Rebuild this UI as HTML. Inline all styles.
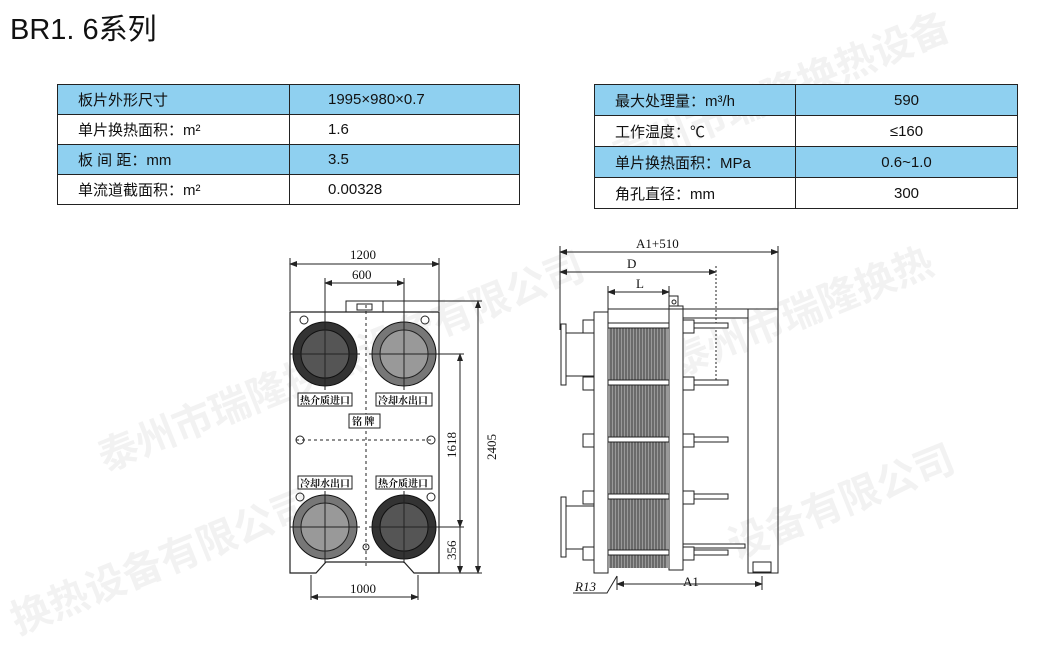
<!DOCTYPE html>
<html><head><meta charset="utf-8"><style>
body{margin:0;width:1057px;height:627px;background:#fff;overflow:hidden;position:relative;font-family:"Liberation Sans","Noto Sans CJK SC",sans-serif}
.t{position:absolute;border-collapse:collapse;font-size:15px;color:#111}
.t td{border:1px solid #222;padding:0 0 0 20px;height:29px}
.t tr.b td{background:#8fd0f0}
.title{position:absolute;left:10px;top:6px;font-size:29px;color:#111}
.wm{position:absolute;color:rgba(0,0,0,0.05);font-weight:bold;transform:rotate(-22deg);white-space:nowrap;font-family:"Noto Sans CJK SC",sans-serif}
</style></head><body>
<div class="title">BR1. 6系列</div>
<div class="wm" style="left:600px;top:60px;font-size:40px">泰州市瑞隆换热设备</div>
<div class="wm" style="left:80px;top:330px;font-size:40px">泰州市瑞隆换热设备有限公司</div>
<div class="wm" style="left:660px;top:280px;font-size:40px">泰州市瑞隆换热</div>
<div class="wm" style="left:0px;top:530px;font-size:40px">换热设备有限公司</div>
<div class="wm" style="left:720px;top:470px;font-size:40px">设备有限公司</div>
<table class="t" style="left:57px;top:84px;width:463px">
<tr class="b"><td style="width:211px">板片外形尺寸</td><td style="padding-left:38px">1995×980×0.7</td></tr>
<tr><td>单片换热面积：m²</td><td style="padding-left:38px">1.6</td></tr>
<tr class="b"><td>板 间 距：mm</td><td style="padding-left:38px">3.5</td></tr>
<tr><td>单流道截面积：m²</td><td style="padding-left:38px">0.00328</td></tr>
</table>
<table class="t" style="left:594px;top:84px;width:424px">
<tr class="b"><td style="width:180px;height:30px">最大处理量：m³/h</td><td style="text-align:center;padding:0">590</td></tr>
<tr><td style="height:30px">工作温度：℃</td><td style="text-align:center;padding:0">≤160</td></tr>
<tr class="b"><td style="height:30px">单片换热面积：MPa</td><td style="text-align:center;padding:0">0.6~1.0</td></tr>
<tr><td style="height:30px">角孔直径：mm</td><td style="text-align:center;padding:0">300</td></tr>
</table>
<svg width="1057" height="627" style="position:absolute;left:0;top:0" font-family="Liberation Serif, Noto Serif CJK SC, serif">
<defs><marker id="a" markerWidth="8" markerHeight="6" refX="7" refY="3" orient="auto-start-reverse"><path d="M0,0L8,3L0,6z" fill="#222"/></marker></defs>
<g stroke="#222" fill="none" stroke-width="1">
<path d="M290,312H439V573H414L404,562H326L316,573H290Z" stroke-width="1.2"/>
<rect x="346" y="301" width="37" height="11"/><rect x="357" y="304" width="15" height="6"/>
<line x1="290" y1="258" x2="290" y2="311"/><line x1="439" y1="258" x2="439" y2="311"/>
<line x1="290" y1="264" x2="439" y2="264" marker-start="url(#a)" marker-end="url(#a)"/>
<line x1="325" y1="278" x2="325" y2="354"/><line x1="404" y1="278" x2="404" y2="354"/>
<line x1="325" y1="283" x2="404" y2="283" marker-start="url(#a)" marker-end="url(#a)"/>
<line x1="383" y1="301" x2="482" y2="301"/><line x1="439" y1="573" x2="482" y2="573"/>
<line x1="478" y1="301" x2="478" y2="573" marker-start="url(#a)" marker-end="url(#a)"/>
<line x1="420" y1="354" x2="464" y2="354"/><line x1="420" y1="527" x2="464" y2="527"/>
<line x1="460" y1="354" x2="460" y2="527" marker-start="url(#a)" marker-end="url(#a)"/>
<line x1="460" y1="527" x2="460" y2="573" marker-end="url(#a)"/>
<line x1="311" y1="575" x2="311" y2="600"/><line x1="418" y1="575" x2="418" y2="600"/>
<line x1="311" y1="597" x2="418" y2="597" marker-start="url(#a)" marker-end="url(#a)"/>
<line x1="296" y1="440" x2="434" y2="440" stroke-dasharray="3,3"/>
<line x1="366" y1="305" x2="366" y2="568" stroke-dasharray="3,3"/>
</g>
<g>
<circle cx="325" cy="354" r="32" fill="#333" stroke="#111"/><circle cx="325" cy="354" r="24" fill="#555" stroke="#111"/>
<circle cx="404" cy="354" r="32" fill="#777" stroke="#111"/><circle cx="404" cy="354" r="24" fill="#999" stroke="#222"/>
<circle cx="325" cy="527" r="32" fill="#777" stroke="#111"/><circle cx="325" cy="527" r="24" fill="#999" stroke="#222"/>
<circle cx="404" cy="527" r="32" fill="#333" stroke="#111"/><circle cx="404" cy="527" r="24" fill="#555" stroke="#111"/>
<g stroke="#222" fill="none"><line x1="290" y1="354" x2="360" y2="354"/><line x1="325" y1="318" x2="325" y2="390"/>
<line x1="369" y1="354" x2="439" y2="354"/><line x1="404" y1="318" x2="404" y2="390"/>
<line x1="290" y1="527" x2="360" y2="527"/><line x1="325" y1="491" x2="325" y2="563"/>
<line x1="369" y1="527" x2="439" y2="527"/><line x1="404" y1="491" x2="404" y2="563"/>
<circle cx="304" cy="320" r="4"/><circle cx="425" cy="320" r="4"/><circle cx="300" cy="440" r="4"/><circle cx="431" cy="440" r="4"/><circle cx="300" cy="497" r="4"/><circle cx="431" cy="497" r="4"/><circle cx="366" cy="547" r="3"/></g>
<rect x="298" y="393" width="54" height="13" fill="#fff" stroke="#222"/><rect x="376" y="393" width="56" height="13" fill="#fff" stroke="#222"/>
<rect x="349" y="414" width="31" height="14" fill="#fff" stroke="#222"/>
<rect x="298" y="476" width="54" height="13" fill="#fff" stroke="#222"/><rect x="376" y="476" width="56" height="13" fill="#fff" stroke="#222"/>
<g font-size="10" font-weight="bold" fill="#111" font-family="Noto Serif CJK SC, serif"><text x="300" y="404">热介质进口</text><text x="378" y="404">冷却水出口</text><text x="352" y="425">铭 牌</text><text x="300" y="487">冷却水出口</text><text x="378" y="487">热介质进口</text></g>
<g font-size="13" fill="#111"><text x="350" y="259">1200</text><text x="352" y="279">600</text><text x="350" y="593">1000</text>
<text transform="translate(496,460) rotate(-90)">2405</text><text transform="translate(456,458) rotate(-90)">1618</text><text transform="translate(456,560) rotate(-90)">356</text></g>
</g>
<g stroke="#222" fill="none">
<line x1="560" y1="246" x2="560" y2="330"/><line x1="778" y1="246" x2="778" y2="309"/>
<line x1="560" y1="252" x2="778" y2="252" marker-start="url(#a)" marker-end="url(#a)"/>
<line x1="560" y1="272" x2="716" y2="272" marker-start="url(#a)" marker-end="url(#a)"/><line x1="716" y1="266" x2="716" y2="384" stroke-dasharray="2,2"/>
<line x1="608" y1="286" x2="608" y2="312"/><line x1="669" y1="286" x2="669" y2="306"/>
<line x1="608" y1="292" x2="669" y2="292" marker-start="url(#a)" marker-end="url(#a)"/>
<rect x="594" y="312" width="14" height="261" fill="#fff"/>
<rect x="669" y="306" width="14" height="264" fill="#fff"/><circle cx="674" cy="302" r="2"/><rect x="669" y="296" width="9" height="10"/>
<line x1="608" y1="309" x2="778" y2="309"/><line x1="683" y1="318" x2="748" y2="318"/>
<rect x="748" y="309" width="30" height="264"/><rect x="753" y="562" width="18" height="10"/>
<rect x="561" y="324" width="5" height="61"/><line x1="566" y1="333" x2="594" y2="333"/><line x1="566" y1="376" x2="594" y2="376"/>
<rect x="561" y="497" width="5" height="60"/><line x1="566" y1="506" x2="594" y2="506"/><line x1="566" y1="549" x2="594" y2="549"/>
<line x1="617" y1="576" x2="617" y2="590"/><line x1="762" y1="576" x2="762" y2="590"/>
<line x1="617" y1="584" x2="762" y2="584" marker-start="url(#a)" marker-end="url(#a)"/>
<path d="M573,593L607,593L617,576"/>
</g>
<rect x="608" y="324" width="61" height="244" fill="#999"/>
<g stroke="#333" stroke-width="0.9">
<path d="M611,324V568M614,324V568M617,324V568M620,324V568M623,324V568M626,324V568M629,324V568M632,324V568M635,324V568M638,324V568M641,324V568M644,324V568M647,324V568M650,324V568M653,324V568M656,324V568M659,324V568M662,324V568M665,324V568"/>
</g>
<g fill="#fff" stroke="#222">
<rect x="608" y="323" width="61" height="5"/><rect x="608" y="380" width="61" height="5"/><rect x="608" y="437" width="61" height="5"/><rect x="608" y="494" width="61" height="5"/><rect x="608" y="550" width="61" height="5"/>
</g>
<g stroke="#222" fill="#fff">
<rect x="683" y="323" width="45" height="5"/><rect x="683" y="380" width="45" height="5"/><rect x="683" y="437" width="45" height="5"/><rect x="683" y="494" width="45" height="5"/><rect x="683" y="550" width="45" height="5"/><rect x="683" y="544" width="62" height="4"/>
<rect x="583" y="320" width="11" height="13"/><rect x="583" y="377" width="11" height="13"/><rect x="583" y="434" width="11" height="13"/><rect x="583" y="491" width="11" height="13"/><rect x="583" y="547" width="11" height="13"/>
<rect x="683" y="320" width="11" height="13"/><rect x="683" y="377" width="11" height="13"/><rect x="683" y="434" width="11" height="13"/><rect x="683" y="491" width="11" height="13"/><rect x="683" y="547" width="11" height="13"/>
</g>
<g font-size="13" fill="#111"><text x="636" y="248">A1+510</text><text x="627" y="268">D</text><text x="636" y="288">L</text><text x="683" y="586">A1</text><text x="575" y="591" font-style="italic">R13</text></g>
</svg>
</body></html>
